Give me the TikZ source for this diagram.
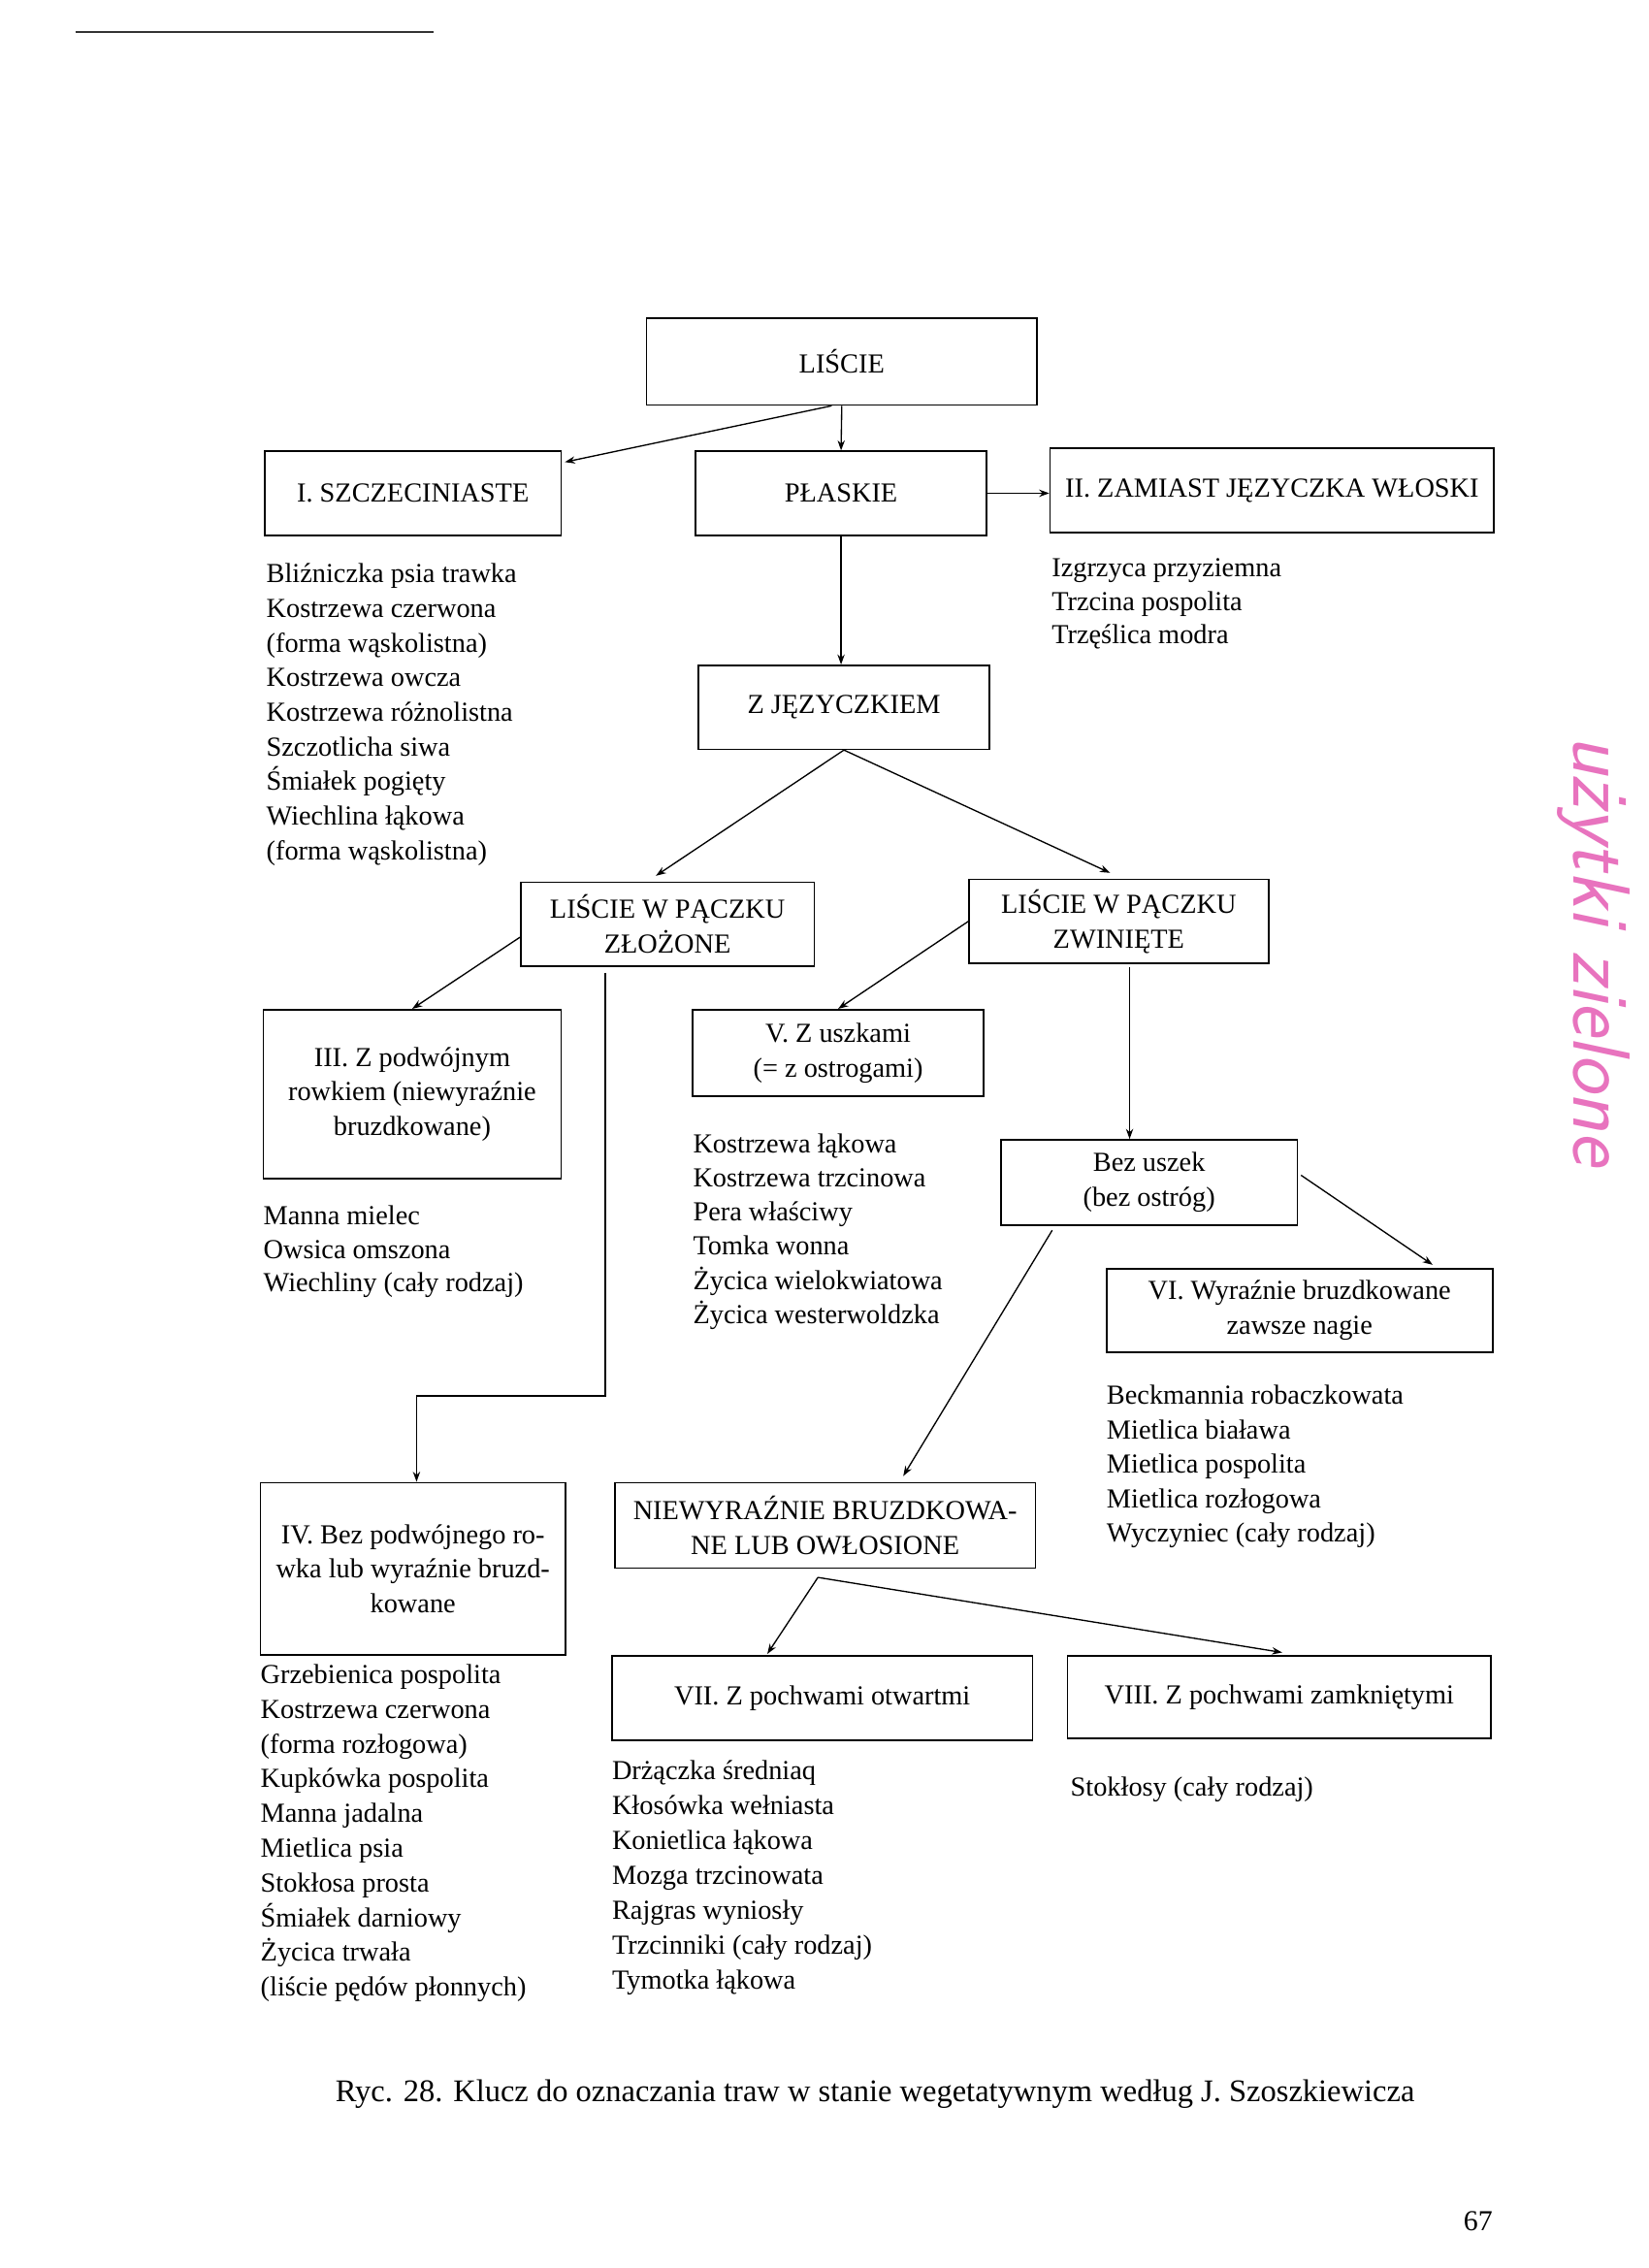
\documentclass[tikz,border=0pt]{standalone}
\usepackage{fontspec}
\setmainfont{Liberation Serif}
\usetikzlibrary{arrows.meta}
\definecolor{pinkink}{RGB}{232,115,190}
\newcommand\boxfnt{\fontsize{19}{24}\selectfont}
\newcommand\listfnt{\fontsize{19}{24}\selectfont}
\begin{document}
\begin{tikzpicture}[x=1pt,y=-1pt,
  box/.style={draw, line width=1.1pt, inner sep=0pt, align=center, font=\boxfnt},
  arr/.style={line width=0.9pt, -{Stealth[length=7pt,width=5pt]}},
  lst/.style={anchor=base west, inner sep=0pt, font=\listfnt}]
\fill[white] (0,0) rectangle (1140,1568);
\useasboundingbox (0,0) rectangle (1140,1568);
% scan rule at top left
\draw[line width=1.6pt, black!80] (52,22) -- (300,22);

% boxes
\node[box, minimum width=270pt, minimum height=60pt] (liscie) at (582,250) {LIŚCIE};
\node[box, minimum width=205pt, minimum height=58pt] (szcz) at (285.5,341) {I. SZCZECINIASTE};
\node[box, minimum width=201pt, minimum height=58pt] (plaskie) at (581.5,341) {PŁASKIE};
\node[box, minimum width=307pt, minimum height=58pt] (zamiast) at (879.5,339) {II. ZAMIAST JĘZYCZKA WŁOSKI};
\node[box, minimum width=201pt, minimum height=58pt] (zjez) at (583.5,489) {Z JĘZYCZKIEM};
\node[box, minimum width=203pt, minimum height=58pt] (zlozone) at (461.5,639) {LIŚCIE W PĄCZKU\\ZŁOŻONE};
\node[box, minimum width=207pt, minimum height=58pt] (zwiniete) at (773.5,637) {LIŚCIE W PĄCZKU\\ZWINIĘTE};
\node[box, minimum width=206pt, minimum height=117pt] (III) at (285,756.5) {III. Z podwójnym\\rowkiem (niewyraźnie\\bruzdkowane)};
\node[box, minimum width=201pt, minimum height=60pt] (V) at (579.5,728) {V. Z uszkami\\(= z ostrogami)};
\node[box, minimum width=205pt, minimum height=59pt] (bez) at (794.5,817.5) {Bez uszek\\(bez ostróg)};
\node[box, minimum width=267pt, minimum height=58pt] (VI) at (898.5,906) {VI. Wyraźnie bruzdkowane\\zawsze nagie};
\node[box, minimum width=211pt, minimum height=119pt] (IV) at (285.5,1084.5) {IV. Bez podwójnego ro-\\wka lub wyraźnie bruzd-\\kowane};
\node[box, minimum width=291pt, minimum height=59pt] (niew) at (570.5,1054.5) {NIEWYRAŹNIE BRUZDKOWA-\\NE LUB OWŁOSIONE};
\node[box, minimum width=291pt, minimum height=58pt] (VII) at (568.5,1174) {VII. Z pochwami otwartmi};
\node[box, minimum width=293pt, minimum height=57pt] (VIII) at (884.5,1173.5) {VIII. Z pochwami zamkniętymi};

% connectors
\draw[arr] (liscie.south) -- (plaskie.north);
\draw[arr] ([xshift=-7pt]liscie.south) -- ([xshift=2pt,yshift=-8pt]szcz.north east);
\draw[arr] (plaskie.east) -- (plaskie.east -| zamiast.west);
\draw[arr] (plaskie.south) -- (plaskie.south |- zjez.north);
\draw[arr] (zjez.south) -- ([xshift=-8pt,yshift=4pt]zlozone.north);
\draw[arr] (zjez.south) -- ([xshift=-6pt,yshift=4pt]zwiniete.north);
\draw[arr] ([yshift=-9pt]zlozone.west) -- (III.north);
\coordinate (zlstart) at ([xshift=-43pt,yshift=-4pt]zlozone.south);
\coordinate (zlbend) at (418.5,965);
\draw[arr] (zlstart) -- (zlbend) -| ([xshift=2.5pt]IV.north);
\draw[arr] (zwiniete.west) -- (V.north);
\coordinate (zwstart) at ([xshift=7.5pt,yshift=-2pt]zwiniete.south);
\draw[arr] (zwstart) -- (zwstart |- bez.north);
\draw[arr] ([yshift=5pt,xshift=2pt]bez.east) -- ([xshift=-42pt,yshift=2pt]VI.north east);
\draw[arr] ([xshift=-67pt,yshift=-3pt]bez.south) -- ([xshift=54pt,yshift=4pt]niew.north);
\coordinate (nj) at ([xshift=-5pt,yshift=-6pt]niew.south);
\draw[arr] (nj) -- ([xshift=-38pt,yshift=1pt]VII.north);
\draw[arr] (nj) -- ([xshift=2pt,yshift=2pt]VIII.north);

% lists
\foreach \t [count=\i from 0] in {{Bliźniczka psia trawka},{Kostrzewa czerwona},{(forma wąskolistna)},{Kostrzewa owcza},{Kostrzewa różnolistna},{Szczotlicha siwa},{Śmiałek pogięty},{Wiechlina łąkowa},{(forma wąskolistna)}}
  \node[lst] (la\i) at (184,403+23.9*\i) {\t};
\foreach \t [count=\i from 0] in {{Izgrzyca przyziemna},{Trzcina pospolita},{Trzęślica modra}}
  \node[lst] (lb\i) at (727,399+23*\i) {\t};
\foreach \t [count=\i from 0] in {{Manna mielec},{Owsica omszona},{Wiechliny (cały rodzaj)}}
  \node[lst] (lc\i) at (182,847+23*\i) {\t};
\foreach \t [count=\i from 0] in {{Grzebienica pospolita},{Kostrzewa czerwona},{(forma rozłogowa)},{Kupkówka pospolita},{Manna jadalna},{Mietlica psia},{Stokłosa prosta},{Śmiałek darniowy},{Życica trwała},{(liście pędów płonnych)}}
  \node[lst] (ld\i) at (180,1164+24*\i) {\t};
\foreach \t [count=\i from 0] in {{Kostrzewa łąkowa},{Kostrzewa trzcinowa},{Pera właściwy},{Tomka wonna},{Życica wielokwiatowa},{Życica westerwoldzka}}
  \node[lst] (le\i) at (479,797+23.6*\i) {\t};
\foreach \t [count=\i from 0] in {{Beckmannia robaczkowata},{Mietlica biaława},{Mietlica pospolita},{Mietlica rozłogowa},{Wyczyniec (cały rodzaj)}}
  \node[lst] (lf\i) at (765,971+23.8*\i) {\t};
\foreach \t [count=\i from 0] in {{Drżączka średniaq},{Kłosówka wełniasta},{Konietlica łąkowa},{Mozga trzcinowata},{Rajgras wyniosły},{Trzcinniki (cały rodzaj)},{Tymotka łąkowa}}
  \node[lst] (lg\i) at (423,1230+24.2*\i) {\t};
\node[lst] (lh0) at (740,1242) {Stokłosy (cały rodzaj)};

% caption and page number
\node[anchor=base, inner sep=0pt, font=\fontsize{21.8}{26}\selectfont] (caption) at (605,1453) {Ryc. 28. Klucz do oznaczania traw w stanie wegetatywnym według J. Szoszkiewicza};
\node[anchor=base, inner sep=0pt, font=\fontsize{20}{24}\selectfont] (pagenum) at (1022,1542) {67};

% handwritten note
\node[rotate=-90, inner sep=0pt, text=pinkink, font=\sffamily\itshape\fontsize{56}{60}\selectfont] (note) at (1102,657) {użytki zielone};
\end{tikzpicture}
\end{document}
